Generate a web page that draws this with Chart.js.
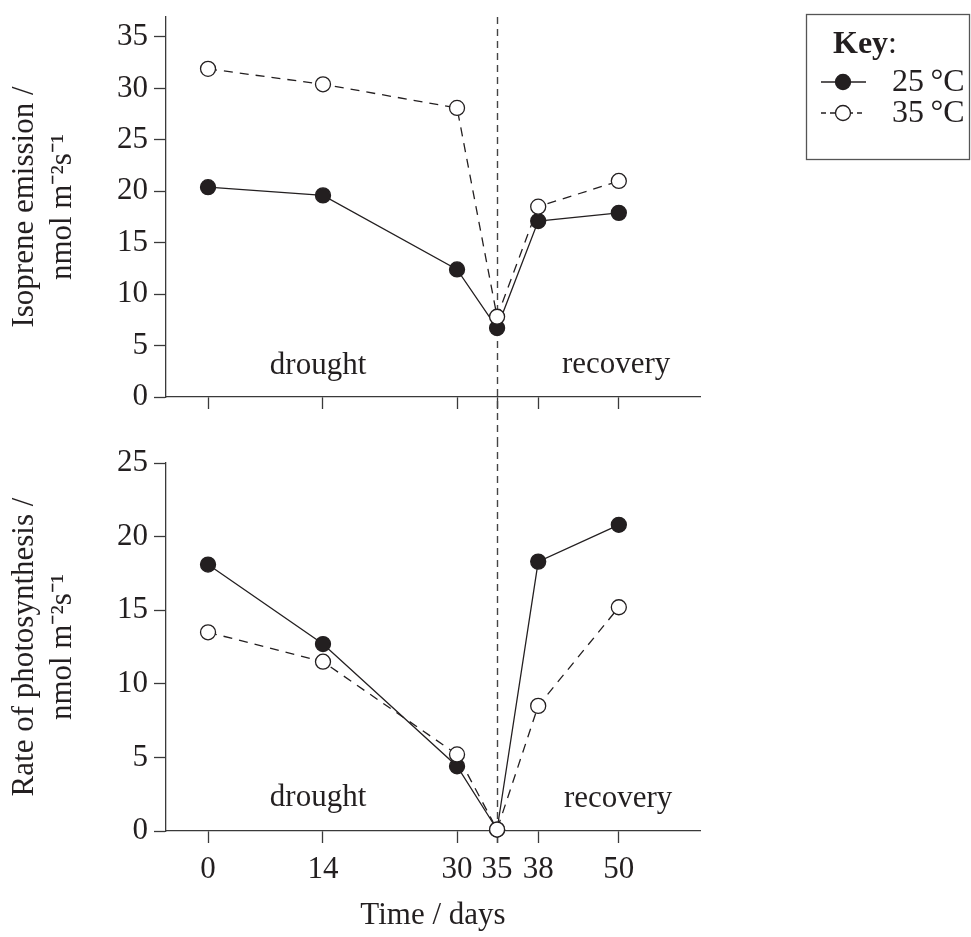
<!DOCTYPE html>
<html>
<head>
<meta charset="utf-8">
<script src="https://cdn.jsdelivr.net/npm/chart.js@4.4.0/dist/chart.umd.min.js"></script>
<style>
  html, body { margin: 0; padding: 0; background: #fff; }
  #wrap { position: relative; width: 971px; height: 937px; }
  canvas { position: absolute; left: 0; }
  #topChart { top: 0; }
  #bottomChart { top: 440px; }
</style>
</head>
<body>
<div id="wrap">
  <canvas id="topChart" width="971" height="440"></canvas>
  <canvas id="bottomChart" width="971" height="497"></canvas>
</div>
<script>
// data
const days = [0, 14, 30, 35, 38, 50];
const isoprene25 = [20.4, 19.6, 12.4, 6.7, 17.1, 17.9];
const isoprene35 = [31.9, 30.4, 28.1, 7.8, 18.5, 21.0];
const photo25 = [18.1, 12.7, 4.4, 0.1, 18.3, 20.8];
const photo35 = [13.5, 11.5, 5.2, 0.1, 8.5, 15.2];
const isopreneTicks = [0, 5, 10, 15, 20, 25, 30, 35];
const photoTicks = [0, 5, 10, 15, 20, 25];
const seriesLabels = ['25\u2009°C', '35\u2009°C'];
const phaseNames = ['drought', 'recovery'];
const rewetDay = 35;

// the original time axis is not evenly spaced (days 35-38 are stretched),
// so the x scale maps day -> fraction of the axis piecewise
const axisDays = [-5, 0, 14, 30, 35, 38, 50, 60];
const axisFrac = [0, 0.0787, 0.294, 0.545, 0.620, 0.697, 0.848, 1];

const ink = '#231f20';
const axisInk = '#3a3a3a';
const serif = "'Liberation Serif', 'Times New Roman', serif";
const tickFont = { family: serif, size: 31 };

class PiecewiseScale extends Chart.LinearScale {
  getPixelForValue(value) {
    let i = 1;
    while (i < axisDays.length - 1 && value > axisDays[i]) i++;
    const t = (value - axisDays[i - 1]) / (axisDays[i] - axisDays[i - 1]);
    return this.getPixelForDecimal(axisFrac[i - 1] + t * (axisFrac[i] - axisFrac[i - 1]));
  }
  getValueForPixel(pixel) {
    const f = this.getDecimalForPixel(pixel);
    let i = 1;
    while (i < axisFrac.length - 1 && f > axisFrac[i]) i++;
    const t = (f - axisFrac[i - 1]) / (axisFrac[i] - axisFrac[i - 1]);
    return axisDays[i - 1] + t * (axisDays[i] - axisDays[i - 1]);
  }
}
PiecewiseScale.id = 'piecewise';
PiecewiseScale.defaults = Chart.LinearScale.defaults;
Chart.register(PiecewiseScale);

function series(values) {
  return days.map((d, i) => ({ x: d, y: values[i] }));
}

// drought / recovery labels, placed in data units
const phasePlugin = {
  id: 'phases',
  afterDraw(chart, args, opts) {
    const { ctx, scales } = chart;
    ctx.save();
    ctx.fillStyle = ink;
    ctx.font = `31px ${serif}`;
    ctx.textAlign = 'center';
    ctx.textBaseline = 'middle';
    opts.items.forEach(it => {
      ctx.fillText(it.text, scales.x.getPixelForValue(it.x), scales.y.getPixelForValue(it.y));
    });
    ctx.restore();
  }
};

// dashed line at re-watering day, runs through the gap between panels
const dividerPlugin = {
  id: 'divider',
  beforeDatasetsDraw(chart, args, opts) {
    const { ctx, scales, chartArea } = chart;
    const x = Math.round(scales.x.getPixelForValue(rewetDay)) + 0.5;
    const y0 = opts.top ? chartArea.top : 0;
    const y1 = opts.top ? chart.height : chartArea.bottom + 12;
    ctx.save();
    ctx.strokeStyle = '#444';
    ctx.lineWidth = 1.4;
    ctx.setLineDash([7, 5]);
    ctx.beginPath();
    ctx.moveTo(x, y0);
    ctx.lineTo(x, y1);
    ctx.stroke();
    ctx.restore();
  }
};

const keyPlugin = {
  id: 'key',
  afterDraw(chart) {
    const ctx = chart.ctx;
    ctx.save();
    ctx.strokeStyle = '#555';
    ctx.lineWidth = 1.3;
    ctx.strokeRect(806.5, 14.5, 163, 145);
    ctx.fillStyle = ink;
    ctx.textBaseline = 'alphabetic';
    ctx.font = `bold 32px ${serif}`;
    ctx.fillText('Key', 833, 53);
    const w = ctx.measureText('Key').width;
    ctx.font = `32px ${serif}`;
    ctx.fillText(':', 833 + w, 53);
    chart.data.datasets.forEach((ds, i) => {
      const y = 82 + i * 31;
      ctx.strokeStyle = ink;
      ctx.lineWidth = 1.3;
      ctx.setLineDash(ds.borderDash ? [5, 4] : []);
      ctx.beginPath();
      ctx.moveTo(821, y);
      ctx.lineTo(866, y);
      ctx.stroke();
      ctx.setLineDash([]);
      ctx.beginPath();
      ctx.arc(843, y, 7.5, 0, Math.PI * 2);
      ctx.fillStyle = ds.pointBackgroundColor;
      ctx.fill();
      ctx.stroke();
      ctx.fillStyle = ink;
      ctx.textBaseline = 'middle';
      ctx.fillText(ds.label, 892, y + 1);
    });
    ctx.restore();
  }
};

function makePanel(id, cfg) {
  return new Chart(document.getElementById(id), {
    type: 'line',
    data: {
      datasets: [
        {
          label: seriesLabels[0],
          data: series(cfg.s25),
          borderColor: ink,
          borderWidth: 1.3,
          pointRadius: 7.5,
          pointBackgroundColor: ink,
          pointBorderColor: ink,
          pointBorderWidth: 1.3,
          tension: 0,
          clip: false,
          order: 2
        },
        {
          label: seriesLabels[1],
          data: series(cfg.s35),
          borderColor: ink,
          borderWidth: 1.3,
          borderDash: [9, 7],
          pointRadius: 7.5,
          pointBackgroundColor: '#ffffff',
          pointBorderColor: ink,
          pointBorderWidth: 1.3,
          tension: 0,
          clip: false,
          order: 1
        }
      ]
    },
    options: {
      responsive: false,
      animation: false,
      events: [],
      layout: { padding: { top: cfg.padTop, right: 271, left: 0, bottom: 0 } },
      plugins: {
        legend: { display: false },
        tooltip: { enabled: false },
        phases: { items: cfg.phases },
        divider: { top: cfg.isTop }
      },
      scales: {
        x: {
          type: 'piecewise',
          min: -5,
          max: 60,
          afterBuildTicks: s => { s.ticks = days.map(v => ({ value: v })); },
          afterFit: s => { s.height = cfg.xHeight; s.paddingLeft = 0; s.paddingRight = 0; },
          grid: { drawOnChartArea: false, tickLength: 12, tickColor: axisInk, tickWidth: 1.3 },
          border: { color: axisInk, width: 1.3 },
          ticks: { display: !cfg.isTop, autoSkip: false, maxRotation: 0, padding: 8, font: tickFont, color: ink },
          title: { display: !cfg.isTop, text: 'Time / days', font: tickFont, color: ink, padding: 3 }
        },
        y: {
          min: 0,
          max: cfg.yMax,
          afterBuildTicks: s => { s.ticks = cfg.yTicks.map(v => ({ value: v })); },
          afterFit: s => { s.width = 166; s.paddingTop = 0; s.paddingBottom = 0; },
          grid: { drawOnChartArea: false, tickLength: 12, tickColor: axisInk, tickWidth: 1.3 },
          border: { color: axisInk, width: 1.3 },
          ticks: { padding: 6, font: tickFont, color: ink },
          title: {
            display: true,
            text: cfg.yTitle,
            font: { family: serif, size: 31, lineHeight: 1.25 },
            color: ink,
            padding: 5
          }
        }
      }
    },
    plugins: cfg.isTop ? [phasePlugin, dividerPlugin, keyPlugin] : [phasePlugin, dividerPlugin]
  });
}

makePanel('topChart', {
  isTop: true,
  s25: isoprene25,
  s35: isoprene35,
  yMax: 36.94,
  yTicks: isopreneTicks,
  yTitle: ['Isoprene emission /', 'nmol m\u207B\u00B2s\u207B\u00B9'],
  padTop: 17,
  xHeight: 43,
  phases: [{ text: phaseNames[0], x: 13.4, y: 3.0 }, { text: phaseNames[1], x: 49.6, y: 3.1 }]
});

makePanel('bottomChart', {
  isTop: false,
  s25: photo25,
  s35: photo35,
  yMax: 25,
  yTicks: photoTicks,
  yTitle: ['Rate of photosynthesis /', 'nmol m\u207B\u00B2s\u207B\u00B9'],
  padTop: 23,
  xHeight: 106,
  phases: [{ text: phaseNames[0], x: 13.4, y: 2.25 }, { text: phaseNames[1], x: 49.9, y: 2.2 }]
});
</script>
</body>
</html>
